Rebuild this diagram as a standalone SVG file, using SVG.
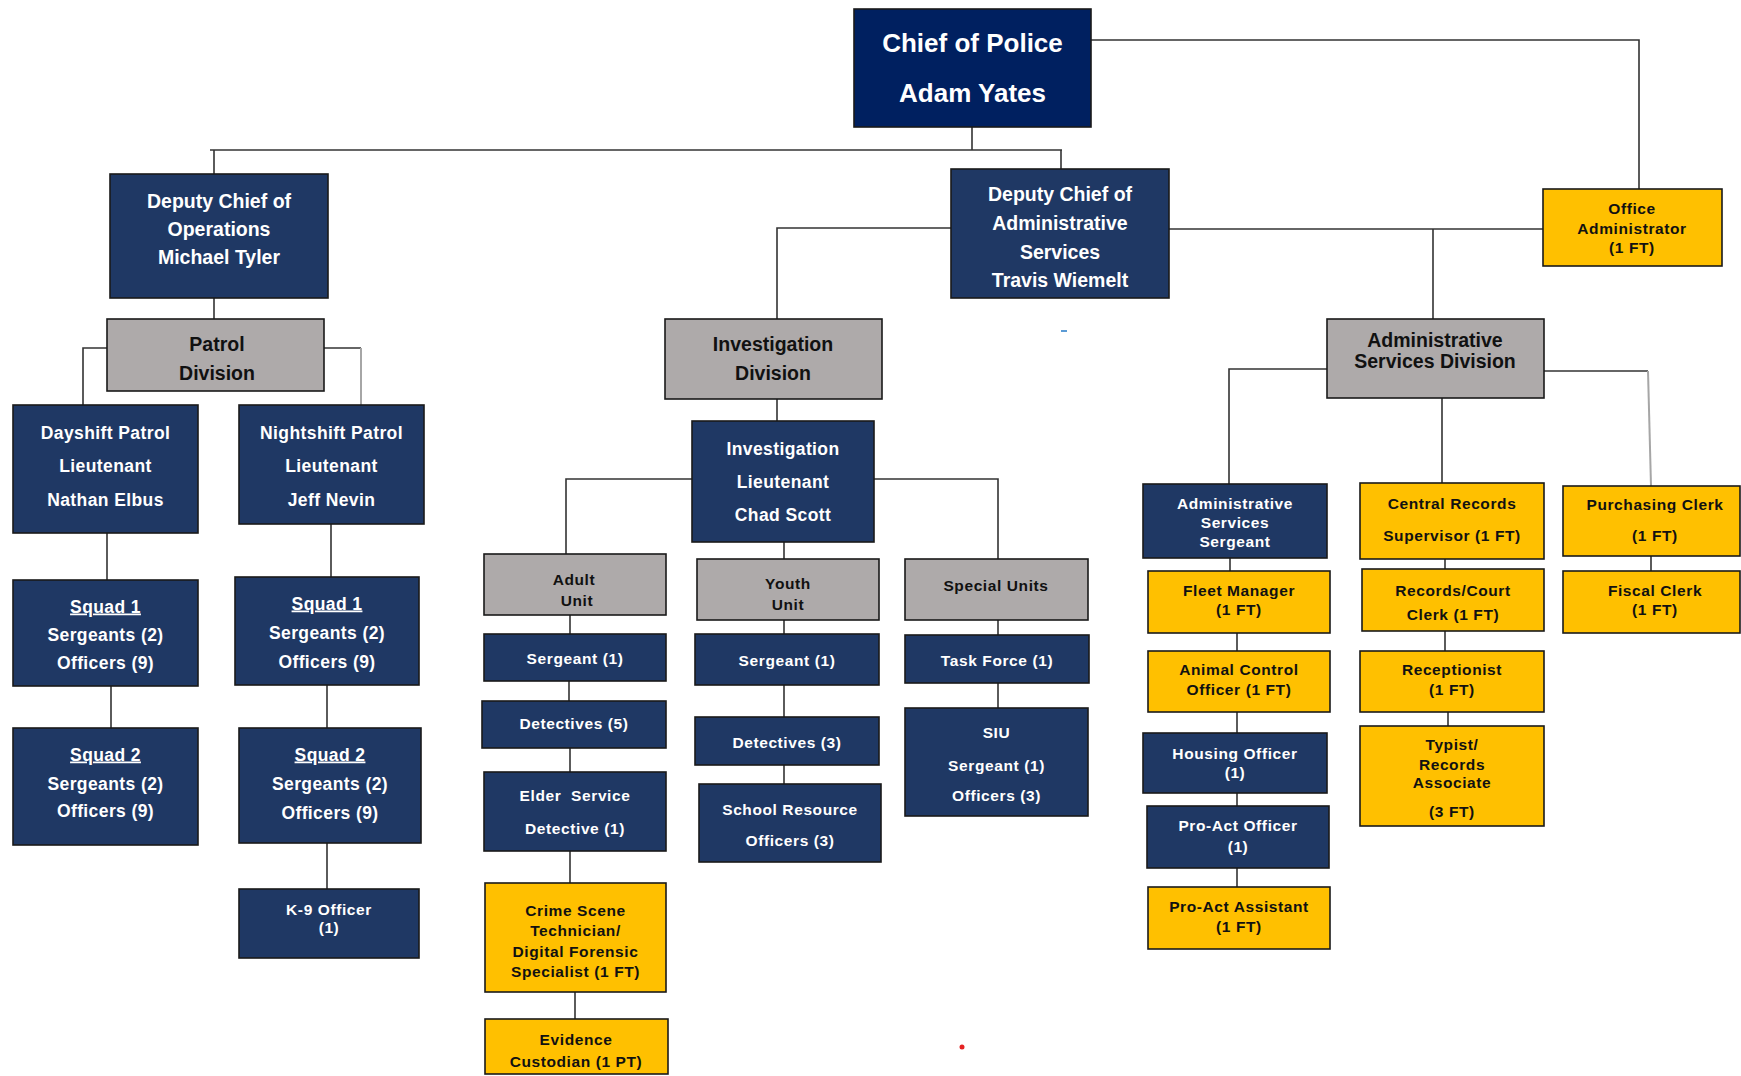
<svg xmlns="http://www.w3.org/2000/svg" width="1741" height="1076" viewBox="0 0 1741 1076">
  <style>
    .box { stroke: #1a1a1a; stroke-width: 1.6; }
    .navy { fill: #1f3864; }
    .chief { fill: #002060; }
    .gray { fill: #aeaaaa; }
    .gold { fill: #ffc000; }
    text { font-family: "Liberation Sans", Arial, sans-serif; font-weight: bold; text-anchor: middle; }
    .w { fill: #ffffff; }
    .k { fill: #111111; }
    .xl { font-size: 26px; }
    .lg { font-size: 19.5px; }
    .md { font-size: 17.5px; letter-spacing: 0.4px; }
    .sm { font-size: 15.5px; letter-spacing: 0.6px; }
    .u { text-decoration: underline; }
    .conn path { fill: none; stroke: #333333; stroke-width: 1.6; }
    .conn path.faint { stroke: #a6a6a6; stroke-width: 2; }
  </style>

  <rect width="1741" height="1076" fill="#ffffff"/>

  <!-- connectors -->
  <g id="connectors" class="conn">
    <path d="M972 127 V150"/>
    <path d="M210 150 H1062"/>
    <path d="M214 150 V174"/>
    <path d="M1061 150 V169"/>
    <path d="M1091 40 H1639 V189"/>
    <path d="M214 298 V319"/>
    <path d="M107 348 H83 V405"/>
    <path d="M324 348 H361"/>
    <path class="faint" d="M361 348 V405"/>
    <path d="M951 228 H777 V319"/>
    <path d="M1169 229 H1543"/>
    <path d="M1433 229 V319"/>
    <path d="M107 533 V580"/>
    <path d="M111 686 V728"/>
    <path d="M331 524 V577"/>
    <path d="M327 685 V728"/>
    <path d="M327 843 V889"/>
    <path d="M777 399 V421"/>
    <path d="M692 479 H566 V554"/>
    <path d="M874 479 H998 V559"/>
    <path d="M784 542 V559"/>
    <path d="M570 615 V634"/>
    <path d="M569 681 V701"/>
    <path d="M570 748 V772"/>
    <path d="M570 851 V883"/>
    <path d="M575 992 V1019"/>
    <path d="M784 620 V634"/>
    <path d="M784 685 V717"/>
    <path d="M784 765 V784"/>
    <path d="M998 620 V635"/>
    <path d="M998 683 V708"/>
    <path d="M1327 369 H1229 V484"/>
    <path d="M1442 398 V483"/>
    <path d="M1544 371 H1648"/>
    <path class="faint" d="M1648 371 L1651 486"/>
    <path d="M1230 558 V571"/>
    <path d="M1237 633 V651"/>
    <path d="M1237 712 V733"/>
    <path d="M1237 793 V806"/>
    <path d="M1237 868 V887"/>
    <path d="M1445 559 V569"/>
    <path d="M1445 631 V651"/>
    <path d="M1448 712 V726"/>
    <path d="M1651 556 V571"/>
  </g>

  <!-- command -->
  <g id="chief">
    <rect class="box chief" x="854" y="9" width="237" height="118"/>
    <text class="w xl" x="972.5" y="52">Chief of Police</text>
    <text class="w xl" x="972.5" y="102">Adam Yates</text>
  </g>
  <g id="deputy-operations">
    <rect class="box navy" x="110" y="174" width="218" height="124"/>
    <text class="w lg" x="219" y="208">Deputy Chief of</text>
    <text class="w lg" x="219" y="236">Operations</text>
    <text class="w lg" x="219" y="264">Michael Tyler</text>
  </g>
  <g id="deputy-admin">
    <rect class="box navy" x="951" y="169" width="218" height="129"/>
    <text class="w lg" x="1060" y="201">Deputy Chief of</text>
    <text class="w lg" x="1060" y="230">Administrative</text>
    <text class="w lg" x="1060" y="259">Services</text>
    <text class="w lg" x="1060" y="287">Travis Wiemelt</text>
  </g>
  <g id="office-admin">
    <rect class="box gold" x="1543" y="189" width="179" height="77"/>
    <text class="k sm" x="1632" y="213.5">Office</text>
    <text class="k sm" x="1632" y="233.5">Administrator</text>
    <text class="k sm" x="1632" y="252.5">(1 FT)</text>
  </g>

  <!-- divisions -->
  <g id="patrol-division">
    <rect class="box gray" x="107" y="319" width="217" height="72"/>
    <text class="k lg" x="217" y="351">Patrol</text>
    <text class="k lg" x="217" y="380">Division</text>
  </g>
  <g id="investigation-division">
    <rect class="box gray" x="665" y="319" width="217" height="80"/>
    <text class="k lg" x="773" y="351">Investigation</text>
    <text class="k lg" x="773" y="380">Division</text>
  </g>
  <g id="admin-division">
    <rect class="box gray" x="1327" y="319" width="217" height="79"/>
    <text class="k lg" x="1435" y="347">Administrative</text>
    <text class="k lg" x="1435" y="368">Services Division</text>
  </g>

  <!-- patrol -->
  <g id="dayshift">
    <rect class="box navy" x="13" y="405" width="185" height="128"/>
    <text class="w md" x="105.5" y="438.5">Dayshift Patrol</text>
    <text class="w md" x="105.5" y="471.5">Lieutenant</text>
    <text class="w md" x="105.5" y="505.5">Nathan Elbus</text>
  </g>
  <g id="nightshift">
    <rect class="box navy" x="239" y="405" width="185" height="119"/>
    <text class="w md" x="331.5" y="438.5">Nightshift Patrol</text>
    <text class="w md" x="331.5" y="471.5">Lieutenant</text>
    <text class="w md" x="331.5" y="505.5">Jeff Nevin</text>
  </g>
  <g id="day-squad-1">
    <rect class="box navy" x="13" y="580" width="185" height="106"/>
    <text class="w md u" x="105.5" y="612.5">Squad 1</text>
    <text class="w md" x="105.5" y="640.5">Sergeants (2)</text>
    <text class="w md" x="105.5" y="668.5">Officers (9)</text>
  </g>
  <g id="day-squad-2">
    <rect class="box navy" x="13" y="728" width="185" height="117"/>
    <text class="w md u" x="105.5" y="760.5">Squad 2</text>
    <text class="w md" x="105.5" y="789.5">Sergeants (2)</text>
    <text class="w md" x="105.5" y="816.5">Officers (9)</text>
  </g>
  <g id="night-squad-1">
    <rect class="box navy" x="235" y="577" width="184" height="108"/>
    <text class="w md u" x="327" y="609.5">Squad 1</text>
    <text class="w md" x="327" y="638.5">Sergeants (2)</text>
    <text class="w md" x="327" y="667.5">Officers (9)</text>
  </g>
  <g id="night-squad-2">
    <rect class="box navy" x="239" y="728" width="182" height="115"/>
    <text class="w md u" x="330" y="760.5">Squad 2</text>
    <text class="w md" x="330" y="789.5">Sergeants (2)</text>
    <text class="w md" x="330" y="818.5">Officers (9)</text>
  </g>
  <g id="k9">
    <rect class="box navy" x="239" y="889" width="180" height="69"/>
    <text class="w sm" x="329" y="914.5">K-9 Officer</text>
    <text class="w sm" x="329" y="932.5">(1)</text>
  </g>

  <!-- investigations -->
  <g id="investigation-lieutenant">
    <rect class="box navy" x="692" y="421" width="182" height="121"/>
    <text class="w md" x="783" y="455">Investigation</text>
    <text class="w md" x="783" y="488">Lieutenant</text>
    <text class="w md" x="783" y="521">Chad Scott</text>
  </g>
  <g id="adult-unit">
    <rect class="box gray" x="484" y="554" width="182" height="61"/>
    <text class="k sm" x="574" y="584.5">Adult</text>
    <text class="k sm" x="577" y="605.5">Unit</text>
  </g>
  <g id="youth-unit">
    <rect class="box gray" x="697" y="559" width="182" height="61"/>
    <text class="k sm" x="788" y="588.5">Youth</text>
    <text class="k sm" x="788" y="609.5">Unit</text>
  </g>
  <g id="special-units">
    <rect class="box gray" x="905" y="559" width="183" height="61"/>
    <text class="k sm" x="996" y="590.5">Special Units</text>
  </g>
  <g id="adult-sergeant">
    <rect class="box navy" x="484" y="634" width="182" height="47"/>
    <text class="w sm" x="575" y="664">Sergeant (1)</text>
  </g>
  <g id="adult-detectives">
    <rect class="box navy" x="482" y="701" width="184" height="47"/>
    <text class="w sm" x="574" y="729">Detectives (5)</text>
  </g>
  <g id="elder-service">
    <rect class="box navy" x="484" y="772" width="182" height="79"/>
    <text class="w sm" x="575" y="801" xml:space="preserve">Elder  Service</text>
    <text class="w sm" x="575" y="833.5">Detective (1)</text>
  </g>
  <g id="crime-scene">
    <rect class="box gold" x="485" y="883" width="181" height="109"/>
    <text class="k sm" x="575.5" y="915.5">Crime Scene</text>
    <text class="k sm" x="575.5" y="935.5">Technician/</text>
    <text class="k sm" x="575.5" y="956.5">Digital Forensic</text>
    <text class="k sm" x="575.5" y="976.5">Specialist (1 FT)</text>
  </g>
  <g id="evidence-custodian">
    <rect class="box gold" x="485" y="1019" width="183" height="55"/>
    <text class="k sm" x="576" y="1044.5">Evidence</text>
    <text class="k sm" x="576" y="1066.5">Custodian (1 PT)</text>
  </g>
  <g id="youth-sergeant">
    <rect class="box navy" x="695" y="634" width="184" height="51"/>
    <text class="w sm" x="787" y="665.5">Sergeant (1)</text>
  </g>
  <g id="youth-detectives">
    <rect class="box navy" x="695" y="717" width="184" height="48"/>
    <text class="w sm" x="787" y="748">Detectives (3)</text>
  </g>
  <g id="school-resource">
    <rect class="box navy" x="699" y="784" width="182" height="78"/>
    <text class="w sm" x="790" y="814.5">School Resource</text>
    <text class="w sm" x="790" y="845.5">Officers (3)</text>
  </g>
  <g id="task-force">
    <rect class="box navy" x="905" y="635" width="184" height="48"/>
    <text class="w sm" x="997" y="665.5">Task Force (1)</text>
  </g>
  <g id="siu">
    <rect class="box navy" x="905" y="708" width="183" height="108"/>
    <text class="w sm" x="996.5" y="738">SIU</text>
    <text class="w sm" x="996.5" y="770.5">Sergeant (1)</text>
    <text class="w sm" x="996.5" y="801">Officers (3)</text>
  </g>

  <!-- administrative services -->
  <g id="admin-sergeant">
    <rect class="box navy" x="1143" y="484" width="184" height="74"/>
    <text class="w sm" x="1235" y="508.5">Administrative</text>
    <text class="w sm" x="1235" y="527.5">Services</text>
    <text class="w sm" x="1235" y="546.5">Sergeant</text>
  </g>
  <g id="fleet-manager">
    <rect class="box gold" x="1148" y="571" width="182" height="62"/>
    <text class="k sm" x="1239" y="595.5">Fleet Manager</text>
    <text class="k sm" x="1239" y="614.5">(1 FT)</text>
  </g>
  <g id="animal-control">
    <rect class="box gold" x="1148" y="651" width="182" height="61"/>
    <text class="k sm" x="1239" y="674.5">Animal Control</text>
    <text class="k sm" x="1239" y="694.5">Officer (1 FT)</text>
  </g>
  <g id="housing-officer">
    <rect class="box navy" x="1143" y="733" width="184" height="60"/>
    <text class="w sm" x="1235" y="758.5">Housing Officer</text>
    <text class="w sm" x="1235" y="777.5">(1)</text>
  </g>
  <g id="proact-officer">
    <rect class="box navy" x="1147" y="806" width="182" height="62"/>
    <text class="w sm" x="1238" y="830.5">Pro-Act Officer</text>
    <text class="w sm" x="1238" y="851.5">(1)</text>
  </g>
  <g id="proact-assistant">
    <rect class="box gold" x="1148" y="887" width="182" height="62"/>
    <text class="k sm" x="1239" y="911.5">Pro-Act Assistant</text>
    <text class="k sm" x="1239" y="931.5">(1 FT)</text>
  </g>
  <g id="central-records">
    <rect class="box gold" x="1360" y="483" width="184" height="76"/>
    <text class="k sm" x="1452" y="508.5">Central Records</text>
    <text class="k sm" x="1452" y="540.5">Supervisor (1 FT)</text>
  </g>
  <g id="records-court">
    <rect class="box gold" x="1362" y="569" width="182" height="62"/>
    <text class="k sm" x="1453" y="595.5">Records/Court</text>
    <text class="k sm" x="1453" y="619.5">Clerk (1 FT)</text>
  </g>
  <g id="receptionist">
    <rect class="box gold" x="1360" y="651" width="184" height="61"/>
    <text class="k sm" x="1452" y="674.5">Receptionist</text>
    <text class="k sm" x="1452" y="694.5">(1 FT)</text>
  </g>
  <g id="typist">
    <rect class="box gold" x="1360" y="726" width="184" height="100"/>
    <text class="k sm" x="1452" y="749.5">Typist/</text>
    <text class="k sm" x="1452" y="769.5">Records</text>
    <text class="k sm" x="1452" y="787.5">Associate</text>
    <text class="k sm" x="1452" y="816.5">(3 FT)</text>
  </g>
  <g id="purchasing-clerk">
    <rect class="box gold" x="1563" y="486" width="177" height="70"/>
    <text class="k sm" x="1655" y="509.5">Purchasing Clerk</text>
    <text class="k sm" x="1655" y="540.5">(1 FT)</text>
  </g>
  <g id="fiscal-clerk">
    <rect class="box gold" x="1563" y="571" width="177" height="62"/>
    <text class="k sm" x="1655" y="595.5">Fiscal Clerk</text>
    <text class="k sm" x="1655" y="614.5">(1 FT)</text>
  </g>

  <!-- stray marks -->
  <rect x="1061" y="330" width="6" height="2" fill="#5b9bd5"/>
  <circle cx="962" cy="1047" r="2.5" fill="#e52222"/>
</svg>
